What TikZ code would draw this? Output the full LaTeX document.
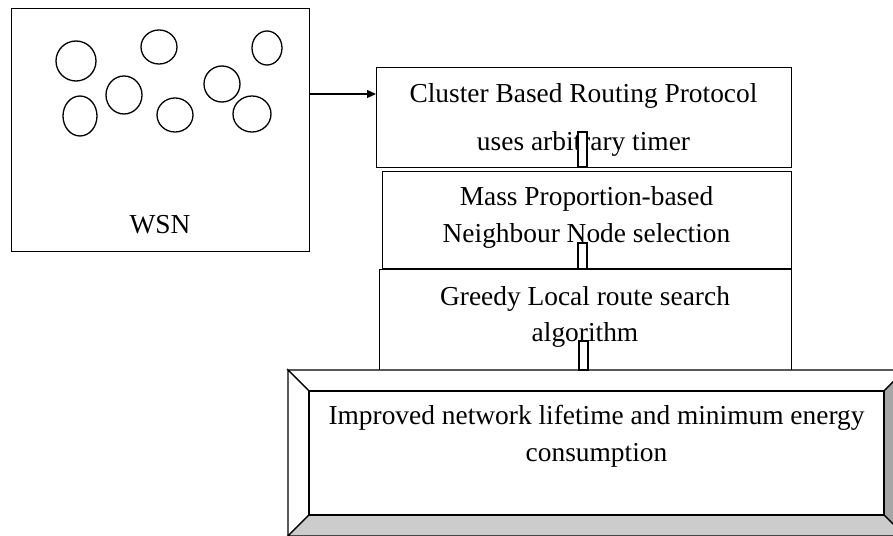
\documentclass[tikz,border=0pt]{standalone}
\usepackage{fontspec}
\setmainfont{Liberation Serif}
\usetikzlibrary{arrows.meta}
\begin{document}
\begin{tikzpicture}[x=1pt,y=-1pt,line width=1.3pt,
  boxnode/.style={draw=black,fill=white,inner sep=0pt,anchor=north west},
  txt/.style={inner sep=0pt,anchor=base,font=\fontsize{27.4}{30}\selectfont},
  link/.style={draw=black,fill=white,line width=1.1pt}]
\useasboundingbox (0,0) rectangle (893,535);
\clip (0,0) rectangle (893,535);
% WSN box
\node[boxnode,minimum width=298pt,minimum height=243pt] (wsn) at (11,8) {};
\foreach \cx/\cy/\rx/\ry in {76/61/20/20,159/47/18/17,267/48/15/17,80/116/17/20,124/95/18/19,175/115/18/17,222/84/18/18,252/114/19/18}
  \draw (\cx,\cy) ellipse [x radius=\rx pt, y radius=\ry pt];
\node[txt] (wsnlbl) at (160,233) {WSN};
% boxes
\node[boxnode,minimum width=415pt,minimum height=100pt] (b1) at (376,67) {};
\node[boxnode,minimum width=409pt,minimum height=97pt] (b2) at (382,171) {};
\node[boxnode,minimum width=412pt,minimum height=101pt] (b3) at (379,269) {};
% arrow
\coordinate (aS) at (309,94);
\coordinate (aE) at (376,94);
\draw[-{Triangle[length=9pt,width=8pt]}] (aS) -- (aE);
% texts
\node[txt] (t1a) at (583.5,102) {Cluster Based Routing Protocol};
\node[txt] (t1b) at (583.5,150) {uses arbitrary timer};
\node[txt] (t2a) at (586.5,205) {Mass Proportion-based};
\node[txt] (t2b) at (586.5,242) {Neighbour Node selection};
\node[txt] (t3a) at (585,305) {Greedy Local route search};
\node[txt] (t3b) at (585,341) {algorithm};
% bevel box
\coordinate (o1) at (288,370); \coordinate (o2) at (905,370);
\coordinate (o3) at (905,536); \coordinate (o4) at (288,536);
\coordinate (i1) at (309,391); \coordinate (i2) at (884,391);
\coordinate (i3) at (884,515); \coordinate (i4) at (309,515);
\filldraw[fill=white] (o1) -- (o2) -- (i2) -- (i1) -- cycle;
\filldraw[fill=white] (o1) -- (i1) -- (i4) -- (o4) -- cycle;
\filldraw[fill=black!35] (o2) -- (o3) -- (i3) -- (i2) -- cycle;
\filldraw[fill=black!20] (o4) -- (i4) -- (i3) -- (o3) -- cycle;
\draw[fill=white] (i1) rectangle (i3);
\node[txt] (t4a) at (596.5,424) {Improved network lifetime and minimum energy};
\node[txt] (t4b) at (596.5,461) {consumption};
% links
\draw[link] (578,132) rectangle (587,167);
\draw[link] (578,243) rectangle (587,269);
\draw[link] (579,341) rectangle (588,370);
\end{tikzpicture}
\end{document}
